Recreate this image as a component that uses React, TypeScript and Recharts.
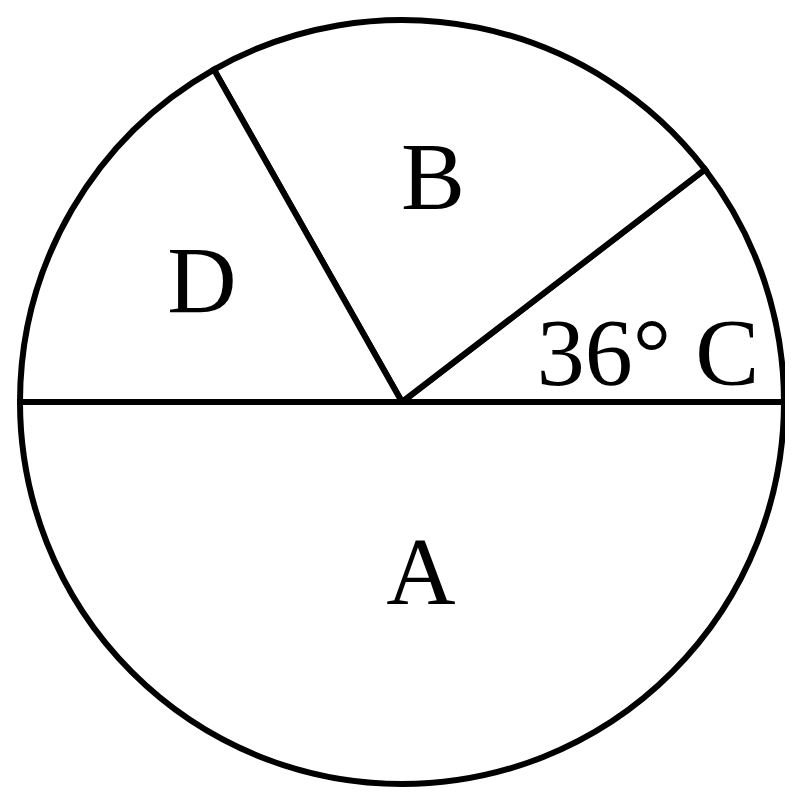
import { PieChart, Pie, Cell } from 'recharts';

// Sectors counter-clockwise from 3 o'clock (degrees as drawn)
const sectorNames = ['C', 'B', 'D', 'A'];
const sectorLabels = ['36° C', 'B', 'D', 'A'];
const sectorDegrees = [37.5, 82, 60.5, 180];

const data = sectorNames.map((name, i) => ({ name, label: sectorLabels[i], value: sectorDegrees[i] }));

// label baseline offsets from the centre, px
const labelOffsets: Record<string, [number, number]> = {
  C: [246, -17],
  B: [31, -193],
  D: [-200, -89],
  A: [19, 202],
};

function renderLabel(props: any) {
  const { cx, cy, index } = props;
  const d = data[index];
  const [dx, dy] = labelOffsets[d.name];
  return (
    <text
      x={cx + dx}
      y={cy + dy}
      textAnchor="middle"
      fill="#000"
      style={{ fontFamily: '"Liberation Serif", "Times New Roman", serif', fontSize: 96 }}
    >
      {d.label}
    </text>
  );
}

export default function App() {
  return (
    <PieChart width={785} height={785}>
      <Pie
        data={data}
        dataKey="value"
        nameKey="name"
        cx={389}
        cy={389}
        outerRadius={382}
        startAngle={0}
        endAngle={360}
        stroke="#000"
        strokeWidth={6}
        label={renderLabel}
        labelLine={false}
        isAnimationActive={false}
      >
        {data.map((d) => (
          <Cell key={d.name} fill="#fff" stroke="#000" strokeWidth={6} />
        ))}
      </Pie>
    </PieChart>
  );
}
